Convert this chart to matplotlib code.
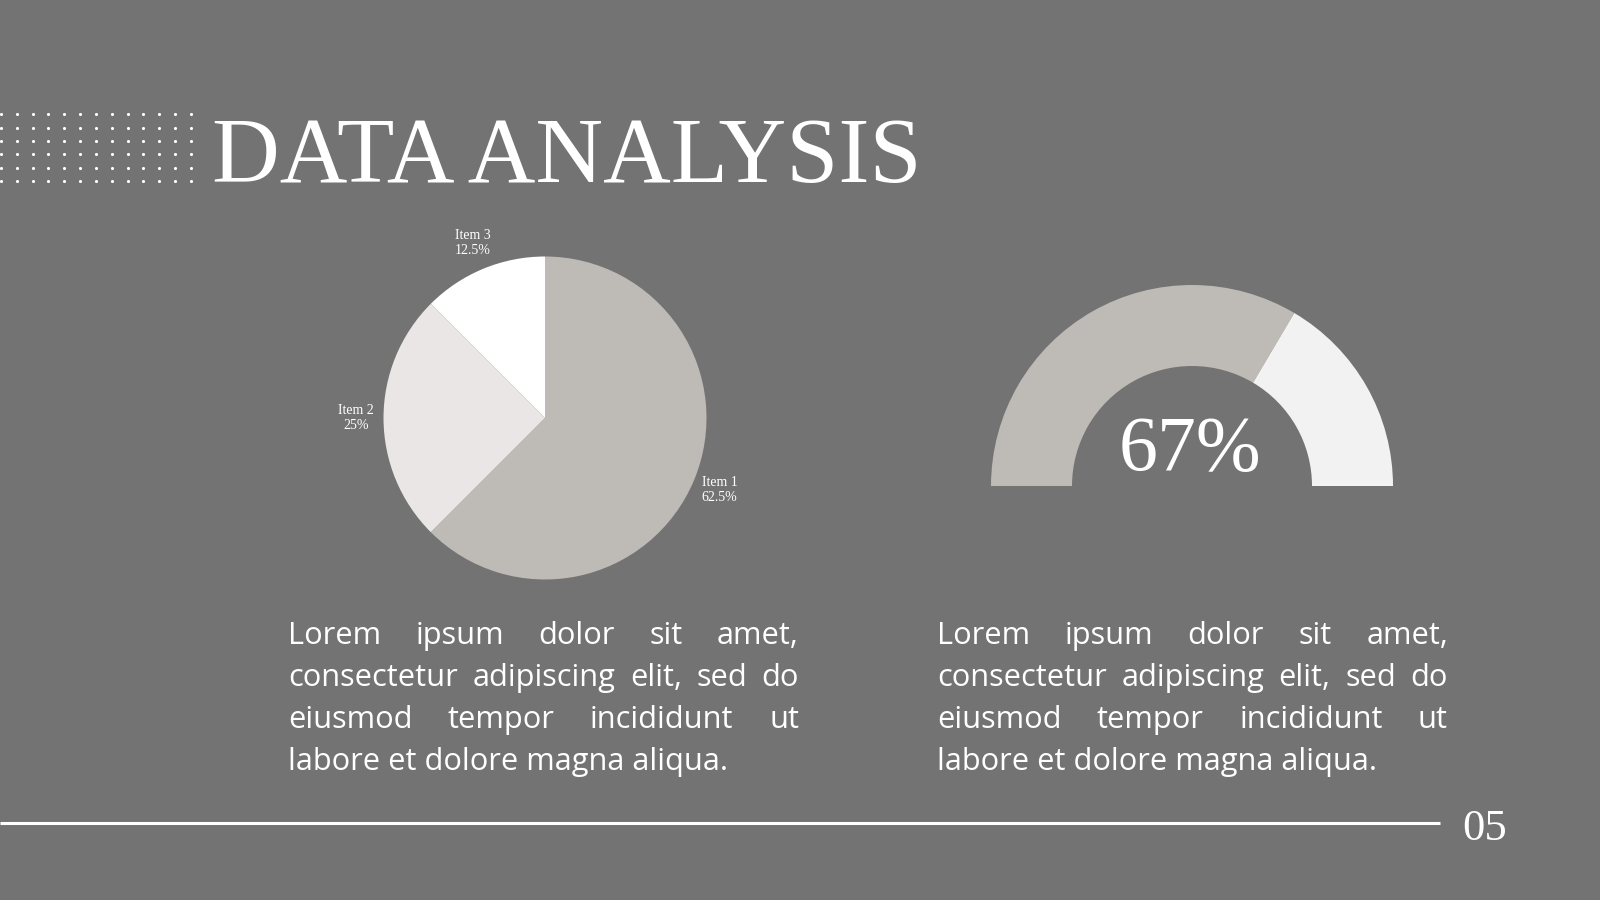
import matplotlib.pyplot as plt
import numpy as np

# --- data ---
items = ["Item 1", "Item 2", "Item 3"]
shares = [62.5, 25, 12.5]
pie_colors = ["#BEBAB6", "#E9E6E5", "#FFFFFF"]

gauge_value = 67
gauge_colors = ["#BEBAB6", "#F2F2F2"]

title = "DATA ANALYSIS"
page_no = "05"
body_lines = [
    "Lorem ipsum dolor sit amet,",
    "consectetur adipiscing elit, sed do",
    "eiusmod tempor incididunt ut",
    "labore et dolore magna aliqua.",
]

bg = "#737373"
W, H = 1600, 900

fig = plt.figure(figsize=(16, 9), dpi=100, facecolor=bg)
ax = fig.add_axes([0, 0, 1, 1])
ax.set_facecolor(bg)
ax.axis("off")

def fy(y):
    # image row -> data y (y goes up)
    return H - y

# dot grid top-left
gx, gy = np.meshgrid(np.arange(13) * 15.83 + 1, np.arange(6) * 13.33 + 114.3)
ax.scatter(gx.ravel(), fy(gy.ravel()), s=5, color="white", lw=0)

ax.text(212, fy(182), title, fontsize=67.5, color="white",
        family="Liberation Serif", va="baseline", ha="left")

# pie
wedges, _ = ax.pie(shares, colors=pie_colors, startangle=90, counterclock=False,
                   center=(545, fy(418)), radius=161.5)
for w, name, v in zip(wedges, items, shares):
    mid = np.deg2rad((w.theta1 + w.theta2) / 2)
    lx = 545 + 1.17 * 161.5 * np.cos(mid)
    ly = fy(418) + 1.17 * 161.5 * np.sin(mid)
    ax.text(lx, ly, f"{name}\n{v:g}%", fontsize=10, color="white",
            family="Liberation Serif", ha="center", va="center")

# gauge (half donut)
gw, _ = ax.pie([gauge_value, 100 - gauge_value, 100], colors=gauge_colors + ["none"],
               startangle=180, counterclock=False, center=(1192, fy(486)),
               radius=201, wedgeprops=dict(width=81))
gw[2].set_visible(False)
ax.text(1190, fy(470), f"{gauge_value}%", fontsize=56, color="white",
        family="Liberation Serif", ha="center", va="baseline")

# justified body text
renderer = fig.canvas.get_renderer()
block_w = 511
probe = ax.text(0, 0, body_lines[3], fontsize=20, family="Open Sans")
body_size = 20 * 439 / probe.get_window_extent(renderer).width
probe.remove()
body_font = dict(fontsize=body_size, color="white", family="Open Sans", va="baseline")
baselines = [644, 686, 728, 770]

def text_block(x0, width):
    for i, (line, yb) in enumerate(zip(body_lines, baselines)):
        if i == len(body_lines) - 1:
            ax.text(x0, fy(yb), line, ha="left", **body_font)
            continue
        words = line.split()
        ts = [ax.text(0, fy(yb), w, ha="left", **body_font) for w in words]
        ws = [t.get_window_extent(renderer).width for t in ts]
        gap = (width - sum(ws)) / (len(words) - 1)
        x = x0
        for t, wd in zip(ts, ws):
            t.set_x(x)
            x += wd + gap

text_block(288, block_w)
text_block(937, block_w)

ax.plot([0, 1440], [fy(823), fy(823)], color="white", lw=2.2, solid_capstyle="butt")
ax.text(1485, fy(840), page_no, fontsize=32, color="white",
        family="Liberation Serif", ha="center", va="baseline")

ax.set_xlim(0, W)
ax.set_ylim(0, H)
ax.set_aspect("auto")
fig.savefig("out.png", dpi=100, facecolor=bg)
